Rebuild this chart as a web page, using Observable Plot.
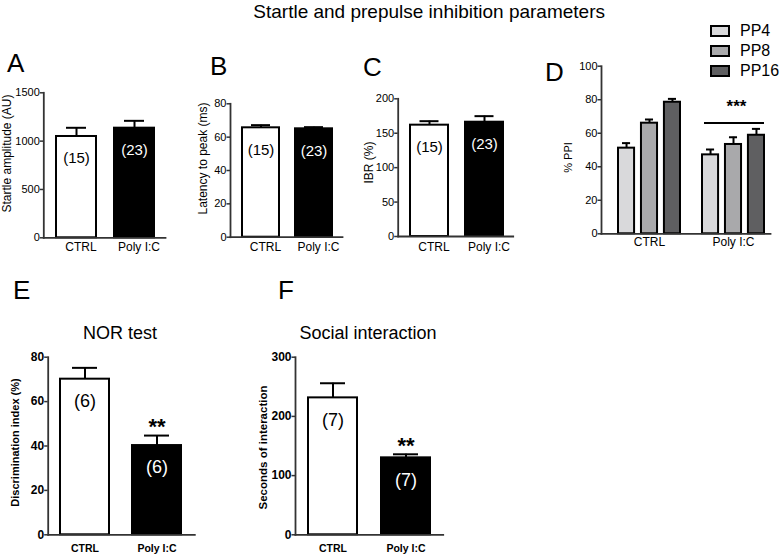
<!DOCTYPE html>
<html><head><meta charset="utf-8">
<script src="https://cdn.jsdelivr.net/npm/d3@7"></script>
<script src="https://cdn.jsdelivr.net/npm/@observablehq/plot@0.6"></script>
<style>
body{margin:0;background:#fff;}
#fig{position:relative;width:780px;height:555px;font-family:"Liberation Sans",Arial,Helvetica,sans-serif;color:#000;overflow:hidden;background:#fff}
.t{position:absolute;white-space:nowrap;line-height:0;height:0}
#fig svg{position:absolute}
</style></head><body><div id="fig"></div>
<script>
// ---------- data ----------
const groups = ["CTRL", "Poly I:C"];
const startleMean = [1048, 1134], startleSem = [90, 76];
const latencyMean = [65.6, 65.0], latencySem = [1.6, 1.0];
const ibrMean = [161.7, 166.0], ibrSem = [5.8, 8.8];
const ppiSeries = ["PP4", "PP8", "PP16"];
const ppiColors = ["#d9d9db", "#a9a9ab", "#5f5f61"];
const ppiCtrlMean = [51.1, 66.0, 78.5], ppiCtrlSem = [3.0, 2.2, 2.0];
const ppiPolyMean = [47.1, 53.3, 58.8], ppiPolySem = [3.2, 4.3, 3.8];
const norMean = [70.1, 40.2], norSem = [5.1, 4.5];
const socialMean = [231.3, 130.0], socialSem = [24.7, 6.0];
const nStartle = ["(15)", "(23)"], nNor = ["(6)", "(6)"], nSocial = ["(7)", "(7)"];
const sigNor = ["", "**"], sigSocial = ["", "**"], sigPpi = "***";
const startleTicks = [0, 500, 1000, 1500];
const latencyTicks = [0, 20, 40, 60, 80];
const ibrTicks = [0, 50, 100, 150, 200];
const ppiTicks = [0, 20, 40, 60, 80, 100];
const norTicks = [0, 20, 40, 60, 80];
const socialTicks = [0, 100, 200, 300];

// ---------- helpers ----------
const fig = document.getElementById("fig");
const FONT = '"Liberation Sans", Arial, Helvetica, sans-serif';
const AX = "#333";
const fmt = d => String(d);
function addText(str, x, baseline, size, weight = "normal", anchor = "start") {
  const d = document.createElement("div");
  d.className = "t"; d.textContent = str;
  d.style.left = x + "px"; d.style.top = (baseline - 0.3465 * size) + "px";
  d.style.fontSize = size + "px"; d.style.fontWeight = weight;
  if (anchor === "middle") d.style.transform = "translateX(-50%)";
  if (anchor === "end") d.style.transform = "translateX(-100%)";
  fig.appendChild(d);
}
function place(svg, box) {
  svg.style.left = box.l + "px"; svg.style.top = box.t + "px";
  fig.appendChild(svg);
}
function margins(box, frame) {
  return {
    width: box.w, height: box.h,
    marginLeft: frame.x0 - box.l, marginRight: box.l + box.w - frame.x1,
    marginTop: frame.yTop - box.t, marginBottom: box.t + box.h - frame.y0
  };
}
function yLabelMark(p) {
  return Plot.text([p.yLabel], {
    frameAnchor: "top-left", text: d => d, rotate: -90, textAnchor: "middle", lineAnchor: "middle",
    dx: p.yLabelAt[0] - p.frame.x0, dy: p.yLabelAt[1] - p.frame.yTop,
    fontSize: p.labelFont, fontWeight: p.bold ? "bold" : "normal"
  });
}

function barPanel(p) {
  const data = groups.map((g, i) => ({group: g, mean: p.means[i], hi: p.means[i] + p.sems[i], n: p.nLabels[i], sig: (p.sig || [])[i] || ""}));
  const w = p.bold ? "bold" : "normal";
  const svg = Plot.plot({
    ...margins(p.box, p.frame),
    style: {background: "transparent", fontFamily: FONT, overflow: "visible", color: "#000"},
    x: {domain: groups, range: [p.bars[0] - p.box.l, p.bars[1] - p.box.l], paddingInner: p.pi, paddingOuter: 0},
    y: {domain: [0, p.ymax]},
    color: {domain: groups, range: ["#ffffff", "#000000"]},
    marks: [
      Plot.axisY({ticks: p.ticks, tickFormat: fmt, tickSize: 3.5, tickPadding: 0.5, fontSize: p.tickFont, fontWeight: w, stroke: AX, strokeWidth: 1.5, label: null}),
      Plot.axisX({tickSize: 0, tickPadding: p.xPad, dx: p.xDx, fontSize: p.xFont, fontWeight: w, label: null}),
      Plot.ruleX(data, {x: "group", y1: "mean", y2: "hi", stroke: "#000", strokeWidth: 2}),
      Plot.ruleY(data, {x1: "group", x2: "group", y: "hi", insetLeft: p.capInset, insetRight: p.capInset, stroke: "#000", strokeWidth: 2}),
      Plot.barY(data, {x: "group", y: "mean", fill: "group", stroke: "#000", strokeWidth: 2}),
      Plot.text(data, {filter: d => d.group === groups[0], x: "group", y: "mean", text: "n", dy: 22, fontSize: p.nFont, fill: "#000", lineAnchor: "middle"}),
      Plot.text(data, {filter: d => d.group === groups[1], x: "group", y: "mean", text: "n", dy: 22, fontSize: p.nFont, fill: "#fff", lineAnchor: "middle"}),
      Plot.text(data, {filter: d => d.sig, x: "group", y: "hi", text: "sig", dy: -8.5, fontSize: 22, fontWeight: "bold", lineAnchor: "middle"}),
      Plot.frame({anchor: "left", stroke: AX, strokeWidth: 1.8}),
      Plot.frame({anchor: "bottom", stroke: AX, strokeWidth: 1.8}),
      yLabelMark(p)
    ]
  });
  place(svg, p.box);
}

// ---------- top row ----------
barPanel({
  box: {l: 0, t: 85, w: 185, h: 175}, frame: {x0: 43.3, x1: 165, yTop: 92.3, y0: 237.3},
  bars: [55, 154], pi: 0.313, ymax: 1500, ticks: startleTicks,
  means: startleMean, sems: startleSem, nLabels: nStartle,
  tickFont: 11, xFont: 12, xPad: 5.1, xDx: 4.5, nFont: 15, capInset: 10,
  yLabel: "Startle amplitude (AU)", yLabelAt: [6.5, 153], labelFont: 12
});
barPanel({
  box: {l: 188, t: 85, w: 165, h: 175}, frame: {x0: 230, x1: 342, yTop: 103.3, y0: 236.7},
  bars: [241, 332.3], pi: 0.309, ymax: 80, ticks: latencyTicks,
  means: latencyMean, sems: latencySem, nLabels: nStartle,
  tickFont: 11, xFont: 12, xPad: 5.7, xDx: 4.5, nFont: 15, capInset: 9,
  yLabel: "Latency to peak (ms)", yLabelAt: [202.5, 158], labelFont: 12
});
barPanel({
  box: {l: 356, t: 85, w: 165, h: 175}, frame: {x0: 397.7, x1: 512.7, yTop: 98.3, y0: 236},
  bars: [409, 503.3], pi: 0.316, ymax: 200, ticks: ibrTicks,
  means: ibrMean, sems: ibrSem, nLabels: nStartle,
  tickFont: 11, xFont: 12, xPad: 6.4, xDx: 4.5, nFont: 15, capInset: 9.5,
  yLabel: "IBR (%)", yLabelAt: [368.5, 162], labelFont: 12
});

// ---------- panel D (grouped) ----------
(function () {
  const box = {l: 556, t: 55, w: 224, h: 205}, frame = {x0: 601, x1: 770, yTop: 65.7, y0: 233.3};
  const ppiData = [];
  groups.forEach((g, gi) => ppiSeries.forEach((s, si) => {
    const m = gi === 0 ? ppiCtrlMean[si] : ppiPolyMean[si];
    const e = gi === 0 ? ppiCtrlSem[si] : ppiPolySem[si];
    ppiData.push({group: g, series: s, mean: m, hi: m + e});
  }));
  const xr = [618 - box.l, 764 - box.l], pi = 0.262;
  const outer = d3.scaleBand().domain(groups).range(xr).paddingInner(pi).paddingOuter(0);
  const bw = outer.bandwidth();
  const inner = d3.scaleBand().domain(ppiSeries).range([0, bw]).paddingInner(0.3).paddingOuter(0);
  const ib = inner.bandwidth(), capD = 4;
  const seriesMarks = ppiSeries.flatMap(s => {
    const L = inner(s), R = bw - inner(s) - ib, c = L + ib / 2 - bw / 2;
    const sub = ppiData.filter(d => d.series === s);
    return [
      Plot.ruleX(sub, {x: "group", y1: "mean", y2: "hi", dx: c, stroke: "#000", strokeWidth: 2}),
      Plot.ruleY(sub, {x1: "group", x2: "group", y: "hi", insetLeft: L + capD, insetRight: R + capD, stroke: "#000", strokeWidth: 2}),
      Plot.barY(sub, {x: "group", y: "mean", fill: "series", stroke: "#000", strokeWidth: 2, insetLeft: L, insetRight: R})
    ];
  });
  const polyMax = d3.max(ppiData.filter(d => d.group === groups[1]), d => d.hi);
  const sig = [{group: groups[1], y: polyMax, label: sigPpi}];
  const p = {frame, yLabel: "% PPI", yLabelAt: [567.5, 157], labelFont: 11};
  const svg = Plot.plot({
    ...margins(box, frame),
    style: {background: "transparent", fontFamily: FONT, overflow: "visible", color: "#000"},
    x: {domain: groups, range: xr, paddingInner: pi, paddingOuter: 0},
    y: {domain: [0, 100]},
    color: {domain: ppiSeries, range: ppiColors},
    marks: [
      Plot.axisY({ticks: ppiTicks, tickFormat: fmt, tickSize: 3.5, tickPadding: 0.5, fontSize: 11, stroke: AX, strokeWidth: 1.5, label: null}),
      Plot.axisX({tickSize: 0, tickPadding: 4.1, fontSize: 12, label: null}),
      ...seriesMarks,
      Plot.ruleY(sig, {x1: "group", x2: "group", y: "y", dy: -6, insetLeft: 2, stroke: "#000", strokeWidth: 2}),
      Plot.text(sig, {x: "group", y: "y", text: "label", dy: -22, dx: 3, fontSize: 17, fontWeight: "bold", lineAnchor: "middle"}),
      Plot.frame({anchor: "left", stroke: AX, strokeWidth: 1.8}),
      Plot.frame({anchor: "bottom", stroke: AX, strokeWidth: 1.8}),
      yLabelMark(p)
    ]
  });
  place(svg, box);

  // legend
  const leg = document.createElement("div");
  leg.style.cssText = "position:absolute;left:710px;top:21px;font-size:16px;";
  ppiSeries.forEach((s, i) => {
    const row = document.createElement("div");
    row.style.cssText = "display:flex;align-items:center;height:20px;";
    const sw = document.createElement("span");
    sw.style.cssText = `display:inline-block;box-sizing:border-box;width:20px;height:12px;border:2px solid #000;background:${ppiColors[i]};`;
    const tx = document.createElement("span");
    tx.style.cssText = "margin-left:10px;line-height:1;";
    tx.textContent = s;
    row.appendChild(sw); row.appendChild(tx); leg.appendChild(row);
  });
  fig.appendChild(leg);
})();

// ---------- bottom row ----------
barPanel({
  box: {l: 0, t: 345, w: 210, h: 210}, frame: {x0: 47.7, x1: 194.3, yTop: 356.7, y0: 534.3},
  bars: [60, 181.7], pi: 0.321, ymax: 80, ticks: norTicks,
  means: norMean, sems: norSem, nLabels: nNor, sig: sigNor, bold: true,
  tickFont: 12, xFont: 10.5, xPad: 9.5, xDx: 0, nFont: 18, capInset: 12,
  yLabel: "Discrimination index (%)", yLabelAt: [15, 442], labelFont: 11
});
barPanel({
  box: {l: 250, t: 345, w: 210, h: 210}, frame: {x0: 295, x1: 442.7, yTop: 356.7, y0: 534.3},
  bars: [308.3, 430], pi: 0.334, ymax: 300, ticks: socialTicks,
  means: socialMean, sems: socialSem, nLabels: nSocial, sig: sigSocial, bold: true,
  tickFont: 12, xFont: 10.5, xPad: 9.5, xDx: 0, nFont: 18, capInset: 12,
  yLabel: "Seconds of interaction", yLabelAt: [263, 447], labelFont: 11.5
});

// ---------- texts ----------
addText("Startle and prepulse inhibition parameters", 605, 18.5, 19, "normal", "end");
addText("A", 7, 72, 26); addText("B", 210, 75, 26); addText("C", 363, 76, 26); addText("D", 545, 81, 26);
addText("E", 13, 299, 26); addText("F", 278, 299, 26);
addText("NOR test", 120, 339.3, 18, "normal", "middle");
addText("Social interaction", 368, 339.3, 18, "normal", "middle");
</script></body></html>
